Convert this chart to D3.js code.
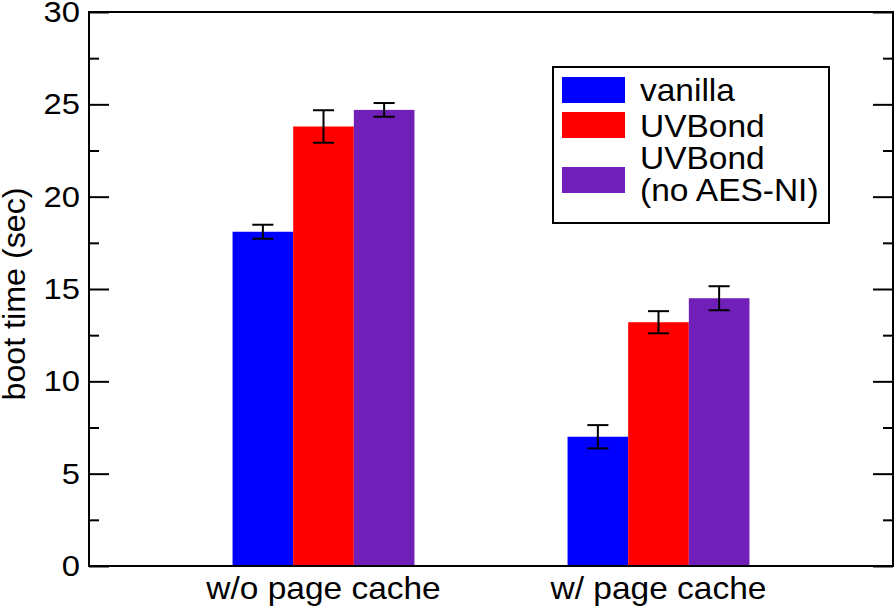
<!DOCTYPE html>
<html>
<head>
<meta charset="utf-8">
<script src="https://cdn.jsdelivr.net/npm/d3@7"></script>
<style>
  html, body { margin: 0; padding: 0; background: #fff; }
  svg { display: block; font-family: "Liberation Sans", Arial, Helvetica, sans-serif; }
</style>
</head>
<body>
<svg id="chart" width="895" height="608"></svg>
<script>
// ---- data ----
const categories = ["w/o page cache", "w/ page cache"];
const seriesNames = ["vanilla", "UVBond", "UVBond\n(no AES-NI)"];
const seriesColors = ["#0000ff", "#ff0000", "#7020b8"];
const vanillaValues = [18.1, 7.0];
const uvbondValues = [23.8, 13.2];
const uvbondNoAesValues = [24.7, 14.5];
const vanillaErrors = [0.38, 0.63];
const uvbondErrors = [0.88, 0.6];
const uvbondNoAesErrors = [0.37, 0.65];
const yTicks = [0, 5, 10, 15, 20, 25, 30];
const yMinorTicks = [2.5, 7.5, 12.5, 17.5, 22.5, 27.5];

const seriesValues = [vanillaValues, uvbondValues, uvbondNoAesValues];
const seriesErrors = [vanillaErrors, uvbondErrors, uvbondNoAesErrors];

(function () {
// ---- layout ----
const svg = d3.select("#chart");
const pLeft = 89, pRight = 893, pTop = 12, pBottom = 566;

const y = d3.scaleLinear().domain([0, 30]).range([pBottom, pTop]);
const x = d3.scaleLinear().domain([0.3, 2.7]).range([pLeft, pRight]);
const barW = 0.181; // in category units
const capW = 0.063;

// bars
seriesValues.forEach((vals, s) => {
  const g = svg.append("g");
  vals.forEach((v, i) => {
    const cx = (i + 1) + (s - 1) * barW;
    g.append("rect")
      .attr("x", x(cx - barW / 2))
      .attr("y", y(v))
      .attr("width", x(cx + barW / 2) - x(cx - barW / 2))
      .attr("height", y(0) - y(v))
      .attr("fill", seriesColors[s]);
  });
});

// error bars
seriesValues.forEach((vals, s) => {
  const g = svg.append("g").attr("stroke", "#000").attr("stroke-width", 2).attr("fill", "none");
  vals.forEach((v, i) => {
    const cx = (i + 1) + (s - 1) * barW;
    const e = seriesErrors[s][i];
    g.append("line").attr("x1", x(cx)).attr("x2", x(cx)).attr("y1", y(v + e)).attr("y2", y(v - e));
    g.append("line").attr("x1", x(cx - capW / 2)).attr("x2", x(cx + capW / 2)).attr("y1", y(v + e)).attr("y2", y(v + e));
    g.append("line").attr("x1", x(cx - capW / 2)).attr("x2", x(cx + capW / 2)).attr("y1", y(v - e)).attr("y2", y(v - e));
  });
});

// frame
svg.append("rect")
  .attr("x", pLeft).attr("y", pTop)
  .attr("width", pRight - pLeft).attr("height", pBottom - pTop)
  .attr("fill", "none").attr("stroke", "#000").attr("stroke-width", 2);

// y axes
const gL = svg.append("g").attr("transform", `translate(${pLeft},0)`)
  .call(d3.axisRight(y).tickValues(yTicks).tickSize(20).tickFormat(""));
const gLm = svg.append("g").attr("transform", `translate(${pLeft},0)`)
  .call(d3.axisRight(y).tickValues(yMinorTicks).tickSize(10).tickFormat(""));
const gR = svg.append("g").attr("transform", `translate(${pRight},0)`)
  .call(d3.axisLeft(y).tickValues(yTicks).tickSize(20).tickFormat(""));
const gRm = svg.append("g").attr("transform", `translate(${pRight},0)`)
  .call(d3.axisLeft(y).tickValues(yMinorTicks).tickSize(10).tickFormat(""));
[gL, gLm, gR, gRm].forEach(g => {
  g.select(".domain").remove();
  g.selectAll(".tick line").attr("stroke", "#000").attr("stroke-width", 2);
});

// y tick labels (slightly stretched horizontally like the reference)
svg.append("g").selectAll("text").data(yTicks).join("text")
  .attr("transform", d => `translate(${pLeft - 9},${y(d)}) scale(1.13,1)`)
  .attr("dy", "0.34em")
  .attr("text-anchor", "end")
  .attr("font-size", 29)
  .attr("fill", "#000")
  .text(d => d);

// x category labels
svg.append("g").selectAll("text").data(categories).join("text")
  .attr("transform", (d, i) => `translate(${x(i + 1)},599) scale(1.08,1)`)
  .attr("text-anchor", "middle")
  .attr("font-size", 31)
  .attr("fill", "#000")
  .text(d => d);

// y axis label
svg.append("text")
  .attr("transform", `translate(25,${(pTop + pBottom) / 2 + 5}) rotate(-90) scale(1.04,1)`)
  .attr("text-anchor", "middle")
  .attr("font-size", 31)
  .attr("fill", "#000")
  .text("boot time (sec)");

// legend
const lg = svg.append("g");
lg.append("rect").attr("x", 553).attr("y", 67).attr("width", 276).attr("height", 156)
  .attr("fill", "#fff").attr("stroke", "#000").attr("stroke-width", 2);
const swatchY = [77, 112, 167];
const textBase = [[101], [137], [169, 201]];
seriesNames.forEach((name, s) => {
  lg.append("rect").attr("x", 562).attr("y", swatchY[s]).attr("width", 63).attr("height", 26)
    .attr("fill", seriesColors[s]);
  name.split("\n").forEach((line, k) => {
    lg.append("text").attr("transform", `translate(640,${textBase[s][k]}) scale(1.08,1)`)
      .attr("font-size", 31).attr("fill", "#000").text(line);
  });
});
})();
</script>
</body>
</html>
